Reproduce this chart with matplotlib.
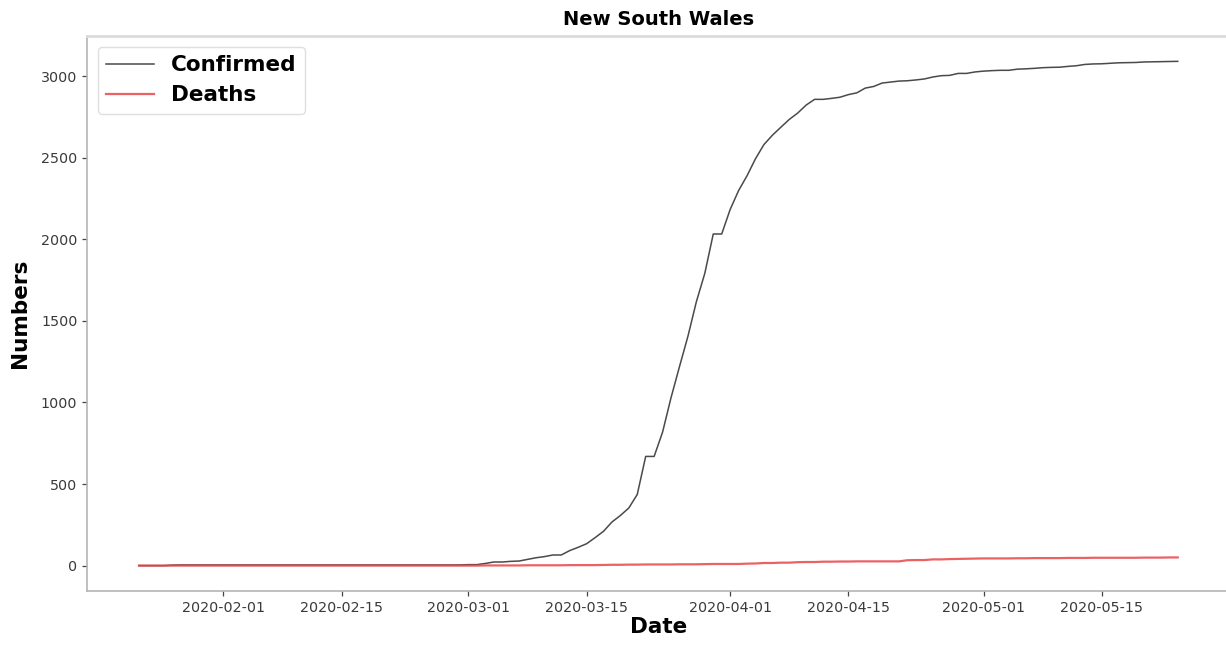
import matplotlib
matplotlib.use("Agg")
import matplotlib.pyplot as plt
import matplotlib.dates as mdates
import pandas as pd

# Daily cumulative figures, 2020-01-22 .. 2020-05-24
start_date = "2020-01-22"
end_date = "2020-05-24"

confirmed = [
    0, 0, 0, 0, 3, 4, 4, 4, 4, 4,                    # Jan 22-31
    4, 4, 4, 4, 4, 4, 4, 4, 4, 4, 4, 4, 4, 4, 4,     # Feb 1-15
    4, 4, 4, 4, 4, 4, 4, 4, 4, 4, 4, 4, 4, 4,        # Feb 16-29
    6, 6, 13, 22, 22, 26, 28, 38, 48, 55,            # Mar 1-10
    65, 65, 92, 112, 134, 171, 210, 267, 307, 353,   # Mar 11-20
    436, 669, 669, 818, 1029, 1219, 1405, 1617, 1791, 2032, 2032,  # Mar 21-31
    2182, 2298, 2389, 2493, 2580, 2637, 2686, 2734, 2773, 2822,    # Apr 1-10
    2857, 2857, 2863, 2870, 2886, 2897, 2926, 2936, 2957, 2963,    # Apr 11-20
    2969, 2971, 2976, 2982, 2994, 3002, 3004, 3016, 3016, 3025,    # Apr 21-30
    3030, 3033, 3035, 3035, 3042, 3044, 3047, 3051, 3053, 3054,    # May 1-10
    3059, 3063, 3071, 3074, 3075, 3078, 3081, 3082, 3083, 3086,    # May 11-20
    3087, 3088, 3089, 3090,                                        # May 21-24
]

deaths = [
    0, 0, 0, 0, 0, 0, 0, 0, 0, 0,                    # Jan 22-31
    0, 0, 0, 0, 0, 0, 0, 0, 0, 0, 0, 0, 0, 0, 0,     # Feb 1-15
    0, 0, 0, 0, 0, 0, 0, 0, 0, 0, 0, 0, 0, 0,        # Feb 16-29
    0, 0, 1, 1, 1, 1, 1, 2, 2, 2,                    # Mar 1-10
    2, 2, 3, 3, 3, 3, 4, 5, 5, 6,                    # Mar 11-20
    6, 7, 7, 7, 7, 8, 8, 8, 9, 10, 10,               # Mar 21-31
    10, 10, 12, 13, 16, 16, 18, 18, 21, 22,          # Apr 1-10
    22, 24, 24, 25, 25, 26, 26, 26, 26, 26,          # Apr 11-20
    26, 33, 34, 34, 38, 38, 40, 41, 42, 43,          # Apr 21-30
    44, 44, 44, 44, 45, 45, 46, 46, 46, 46,          # May 1-10
    47, 47, 47, 48, 48, 48, 48, 48, 48, 49,          # May 11-20
    49, 49, 50, 50,                                  # May 21-24
]

dates = pd.date_range(start_date, end_date, freq="D")

fig = plt.figure(figsize=(12.26, 6.45), dpi=100)
ax = fig.add_axes([0.071, 0.084, 0.932, 0.860])

ax.plot(dates, confirmed, color="#4a4a4a", linewidth=1.1, label="Confirmed")
ax.plot(dates, deaths, color="#e8474a", linewidth=1.6, alpha=0.85, label="Deaths")

ax.set_title("New South Wales", fontsize=14, fontweight="bold", pad=8)
ax.set_xlabel("Date", fontsize=15.5, fontweight="bold", labelpad=2)
ax.set_ylabel("Numbers", fontsize=15.5, fontweight="bold", labelpad=8)

ax.xaxis.set_major_locator(mdates.DayLocator(bymonthday=[1, 15]))
ax.xaxis.set_major_formatter(mdates.DateFormatter("%Y-%m-%d"))
ax.set_yticks([0, 500, 1000, 1500, 2000, 2500, 3000])

ax.tick_params(axis="both", labelsize=10.3, labelcolor="#3a3a3a", color="#444444",
               length=3.5, width=0.9)

for side in ("left", "bottom"):
    ax.spines[side].set_color("#b5b5b5")
    ax.spines[side].set_linewidth(1.2)
for side in ("top", "right"):
    ax.spines[side].set_color("#dcdcdc")
    ax.spines[side].set_linewidth(2.0)

leg = ax.legend(loc="upper left", prop={"size": 15.5, "weight": "bold"},
                frameon=True, fancybox=True, handlelength=2.2,
                borderpad=0.4, labelspacing=0.45, handletextpad=0.8)
leg.get_frame().set_edgecolor("#d8d8d8")

fig.savefig("out.png", dpi=100)
